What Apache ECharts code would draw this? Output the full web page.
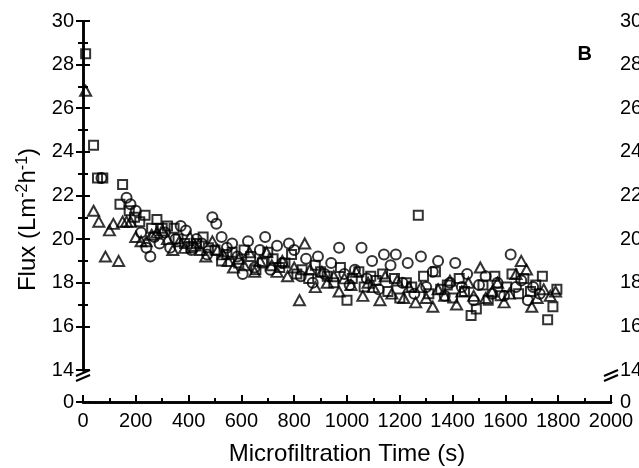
<!DOCTYPE html>
<html>
<head>
<meta charset="utf-8">
<script src="https://cdn.jsdelivr.net/npm/echarts@6/dist/echarts.min.js"></script>
<style>
  html, body { margin: 0; padding: 0; background: #fff; }
  #flux { width: 639px; height: 468px; }
</style>
</head>
<body>
<div id="flux"></div>
<script>
// values: [time (s), flux (L m-2 h-1)]
var squares = [[10,28.5],[40,24.3],[55,22.8],[75,22.8],[140,21.6],[150,22.5],[175,21.3],[195,21.0],[215,20.8],[235,21.1],[260,20.5],[280,20.9],[300,20.5],[320,20.6],[345,20.5],[360,20.0],[385,19.8],[410,19.6],[430,19.8],[455,20.1],[475,19.6],[500,19.5],[525,19.0],[545,19.3],[565,19.4],[590,18.9],[610,19.5],[635,19.2],[655,18.6],[680,18.9],[700,19.4],[720,19.1],[745,18.7],[765,18.9],[790,19.3],[810,18.4],[830,18.6],[855,18.2],[880,18.8],[900,18.5],[925,18.3],[950,18.0],[975,18.7],[1000,17.2],[1020,18.2],[1045,18.5],[1065,17.8],[1090,18.3],[1110,18.1],[1135,18.4],[1155,17.6],[1180,18.2],[1200,17.3],[1225,18.0],[1245,17.8],[1270,21.1],[1290,18.3],[1310,17.5],[1335,18.5],[1355,17.7],[1380,17.9],[1400,17.3],[1425,18.2],[1445,17.6],[1470,16.5],[1490,16.8],[1515,17.9],[1535,17.2],[1560,18.3],[1580,17.4],[1605,17.8],[1625,18.4],[1650,17.5],[1670,18.2],[1695,17.6],[1715,17.9],[1740,18.3],[1760,16.3],[1780,16.9],[1795,17.7]];
var circles = [[70,22.8],[165,21.9],[180,21.6],[200,21.3],[220,20.3],[240,19.6],[255,19.2],[270,20.1],[290,19.8],[310,20.3],[330,19.6],[350,20.0],[370,20.6],[390,20.4],[410,19.5],[430,20.0],[450,19.8],[470,19.3],[490,21.0],[505,20.7],[525,20.1],[545,19.6],[565,19.8],[585,19.2],[605,18.4],[625,19.9],[650,18.7],[670,19.5],[690,20.1],[710,18.6],[735,19.7],[755,18.9],[780,19.8],[800,19.5],[825,18.3],[845,19.1],[870,18.0],[890,19.2],[915,18.4],[940,18.9],[970,19.6],[990,18.4],[1010,17.9],[1030,18.6],[1055,19.6],[1075,18.2],[1095,19.0],[1120,17.7],[1140,19.3],[1165,18.8],[1185,19.3],[1210,18.0],[1230,18.9],[1255,17.5],[1280,19.2],[1300,17.8],[1325,18.5],[1345,19.0],[1370,17.4],[1390,18.0],[1410,18.9],[1435,17.8],[1455,18.4],[1480,17.2],[1500,17.9],[1525,18.3],[1550,17.5],[1570,18.0],[1595,17.4],[1620,19.3],[1640,17.8],[1660,18.1],[1685,17.2],[1705,17.8],[1730,17.5]];
var triangles = [[10,26.8],[40,21.3],[60,20.8],[85,19.2],[100,20.4],[115,20.7],[135,19.0],[150,20.8],[165,20.8],[180,20.8],[200,20.1],[220,19.9],[240,19.9],[260,20.2],[280,20.3],[300,20.4],[320,20.0],[340,19.5],[365,19.9],[385,19.6],[405,20.1],[425,19.7],[445,19.5],[465,19.2],[490,19.9],[510,19.5],[530,19.3],[550,19.0],[570,18.7],[590,19.1],[610,18.8],[630,19.4],[650,18.5],[670,19.0],[695,19.4],[715,18.8],[735,18.5],[755,19.0],[775,18.3],[800,18.7],[820,17.2],[840,19.8],[860,18.6],[880,17.8],[905,18.5],[925,18.0],[950,18.3],[970,17.6],[990,18.2],[1015,17.9],[1035,18.5],[1060,17.4],[1080,18.0],[1100,17.8],[1125,17.2],[1145,18.3],[1170,17.5],[1190,18.1],[1215,17.3],[1235,17.8],[1260,17.1],[1280,17.8],[1300,17.3],[1325,16.9],[1345,17.7],[1370,17.4],[1390,18.1],[1415,17.0],[1435,17.6],[1460,18.0],[1480,17.4],[1505,18.7],[1525,17.3],[1550,17.6],[1570,18.0],[1595,17.1],[1615,17.5],[1640,18.4],[1660,19.0],[1680,18.6],[1700,16.9],[1720,17.3],[1745,17.7],[1770,17.4],[1790,17.6]];

var font = 'Liberation Sans, Arial, sans-serif';

var mychart = echarts.init(document.getElementById('flux'));

function plain(v) { return String(v); }

function yAx(pos) {
  return {
    type: 'value',
    position: pos,
    min: 0,
    max: 30,
    interval: 2,
    breaks: [{ start: 0, end: 14, gap: '8.4%' }],
    breakArea: { show: false },
    breakLabelLayout: { moveOverlap: false },
    axisLine: { show: true, lineStyle: { color: '#000', width: 2.5 } },
    axisTick: { show: true, inside: true, length: 7, lineStyle: { color: '#000', width: 2 } },
    minorTick: { show: true, splitNumber: 2, length: 5, lineStyle: { color: '#000', width: 2 } },
    axisLabel: { color: '#000', fontSize: 20, fontFamily: font, margin: 9, formatter: plain },
    splitLine: { show: false }
  };
}

function symStyle() {
  return { color: 'rgba(0,0,0,0)', borderColor: '#000', borderWidth: 2 };
}

var option = {
  animation: false,
  backgroundColor: '#fff',
  title: {
    text: 'B', right: 42, top: 39,
    textStyle: { fontSize: 20, fontWeight: 'bold', color: '#000', fontFamily: font }
  },
  grid: { left: 83, right: 28, top: 21, bottom: 66, outerBoundsMode: 'none', containLabel: false },
  xAxis: [{
    type: 'value',
    min: 0,
    max: 2000,
    interval: 200,
    name: 'Microfiltration Time (s)',
    nameLocation: 'middle',
    nameGap: 40,
    nameTextStyle: { color: '#000', fontSize: 24, fontFamily: font },
    axisLine: { lineStyle: { color: '#000', width: 2.5 } },
    axisTick: { inside: true, length: 7, lineStyle: { color: '#000', width: 2 } },
    minorTick: { show: true, splitNumber: 2, length: 4, lineStyle: { color: '#000', width: 2 } },
    axisLabel: { color: '#000', fontSize: 20, fontFamily: font, margin: 9, formatter: plain },
    splitLine: { show: false }
  }, {
    type: 'value',
    position: 'top',
    min: 0,
    max: 2000,
    axisLine: { show: true, lineStyle: { color: '#000', width: 2.5 } },
    axisTick: { show: false },
    axisLabel: { show: false },
    splitLine: { show: false }
  }],
  yAxis: [
    Object.assign(yAx('left'), {
      name: 'Flux (Lm{sup|-2}h{sup|-1})',
      nameLocation: 'middle',
      nameGap: 40,
      nameRotate: 90,
      nameTextStyle: {
        color: '#000', fontSize: 24, fontFamily: font, padding: [0, 16, 0, 0],
        rich: { sup: { fontSize: 16, fontFamily: font, color: '#000', padding: [0, 0, 12, 0] } }
      }
    }),
    yAx('right')
  ],
  series: [
    { name: 'squares', type: 'scatter', symbol: 'rect', symbolSize: 9, data: squares, itemStyle: symStyle() },
    { name: 'circles', type: 'scatter', symbol: 'circle', symbolSize: 10, data: circles, itemStyle: symStyle() },
    { name: 'triangles', type: 'scatter', symbol: 'triangle', symbolSize: [11, 10], data: triangles, itemStyle: symStyle() }
  ]
};
mychart.setOption(option);

// little "//" break marks on both y axes, just under the 14 tick
var yb = mychart.convertToPixel({ yAxisIndex: 0 }, 14);
var xl = mychart.convertToPixel({ xAxisIndex: 0 }, 0);
var xr = mychart.convertToPixel({ xAxisIndex: 0 }, 2000);
function brk(x) {
  return [
    { type: 'rect', shape: { x: x - 2, y: yb + 4, width: 4, height: 4 }, style: { fill: '#fff' }, z: 99 },
    { type: 'line', shape: { x1: x - 7, y1: yb + 6, x2: x + 7, y2: yb }, style: { stroke: '#000', lineWidth: 2 }, z: 100 },
    { type: 'line', shape: { x1: x - 7, y1: yb + 11, x2: x + 7, y2: yb + 5 }, style: { stroke: '#000', lineWidth: 2 }, z: 100 }
  ];
}
mychart.setOption({ graphic: brk(xl).concat(brk(xr)) });
</script>
</body>
</html>
